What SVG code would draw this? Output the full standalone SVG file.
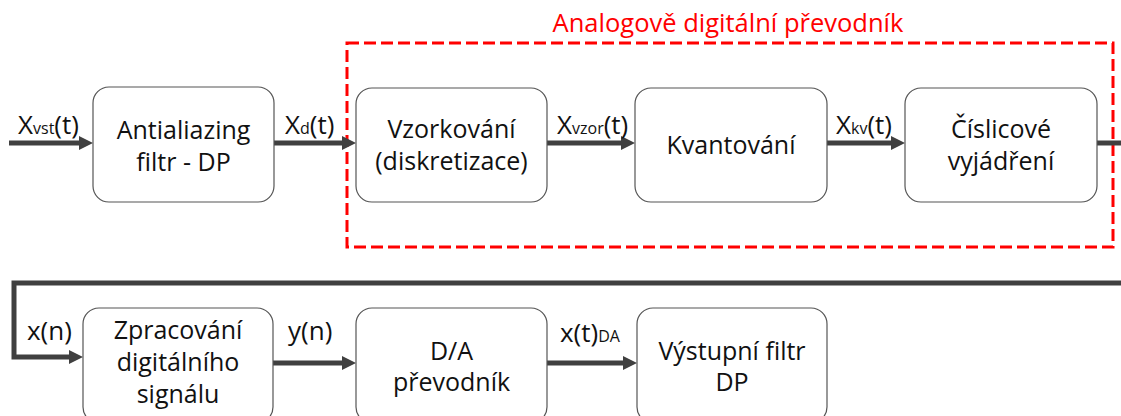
<svg xmlns="http://www.w3.org/2000/svg" width="1121" height="416" viewBox="0 0 1121 416">
<style>
.box{fill:#fff;stroke:#555;stroke-width:1.2}
.t{font-family:"Open Sans","Liberation Sans",sans-serif;font-size:25px;fill:#111;text-anchor:middle}
.l{font-family:"Open Sans","Liberation Sans",sans-serif;font-size:26px;fill:#111}
.s{font-size:16px}
.c{fill:none;stroke:#404040;stroke-width:5}
.title{font-family:"Open Sans","Liberation Sans",sans-serif;font-size:25.5px;fill:#ff0000;text-anchor:middle}
</style>
<defs>
<marker id="ah" viewBox="0 0 14 14" refX="2" refY="7" markerWidth="14" markerHeight="14" markerUnits="userSpaceOnUse" orient="auto">
<path d="M0,0 L14,7 L0,14 z" fill="#404040"/>
</marker>
</defs>
<g id="adc-group">
<rect x="347" y="43" width="766" height="204" fill="none" stroke="#ff0000" stroke-width="3" stroke-dasharray="12,5"/>
<text class="title" x="728" y="32">Analogově digitální převodník</text>
</g>
<g id="connectors">
<path class="c" d="M9,143 H81" marker-end="url(#ah)"/>
<path class="c" d="M274,143 H344" marker-end="url(#ah)"/>
<path class="c" d="M547,143 H623" marker-end="url(#ah)"/>
<path class="c" d="M827,143 H893" marker-end="url(#ah)"/>
<path class="c" d="M1097,143 H1121"/>
<path class="c" d="M1121,283 H14 V357 H71" marker-end="url(#ah)"/>
<path class="c" d="M273,363 H344" marker-end="url(#ah)"/>
<path class="c" d="M547,363 H625" marker-end="url(#ah)"/>
</g>
<g id="labels">
<text class="l" x="18" y="134">X<tspan class="s">vst</tspan>(t)</text>
<text class="l" x="285" y="134">X<tspan class="s">d</tspan>(t)</text>
<text class="l" x="557" y="134">X<tspan class="s">vzor</tspan>(t)</text>
<text class="l" x="836" y="134">X<tspan class="s">kv</tspan>(t)</text>
<text class="l" x="27" y="340">x(n)</text>
<text class="l" x="288" y="340">y(n)</text>
<text class="l" x="560" y="342">x(t)<tspan class="s">DA</tspan></text>
</g>
<g id="antialiazing">
<rect class="box" x="93" y="87" width="181" height="115" rx="16"/>
<text class="t" x="183.5" y="139">Antialiazing</text>
<text class="t" x="183.5" y="171">filtr - DP</text>
</g>
<g id="vzorkovani">
<rect class="box" x="356" y="88" width="191" height="114" rx="16"/>
<text class="t" x="451.5" y="138">Vzorkování</text>
<text class="t" x="451.5" y="170">(diskretizace)</text>
</g>
<g id="kvantovani">
<rect class="box" x="635" y="88" width="192" height="114" rx="16"/>
<text class="t" x="731" y="154">Kvantování</text>
</g>
<g id="ciselne">
<rect class="box" x="905" y="88" width="192" height="114" rx="16"/>
<text class="t" x="1001" y="138">Číslicové</text>
<text class="t" x="1001" y="170">vyjádření</text>
</g>
<g id="zpracovani">
<rect class="box" x="83" y="308" width="190" height="115" rx="16"/>
<text class="t" x="178" y="339">Zpracování</text>
<text class="t" x="178" y="371">digitálního</text>
<text class="t" x="178" y="403">signálu</text>
</g>
<g id="da">
<rect class="box" x="356" y="308" width="191" height="115" rx="16"/>
<text class="t" x="451.5" y="360">D/A</text>
<text class="t" x="451.5" y="391">převodník</text>
</g>
<g id="vystupni">
<rect class="box" x="637" y="308" width="190" height="115" rx="16"/>
<text class="t" x="732" y="360">Výstupní filtr</text>
<text class="t" x="732" y="391">DP</text>
</g>
</svg>
